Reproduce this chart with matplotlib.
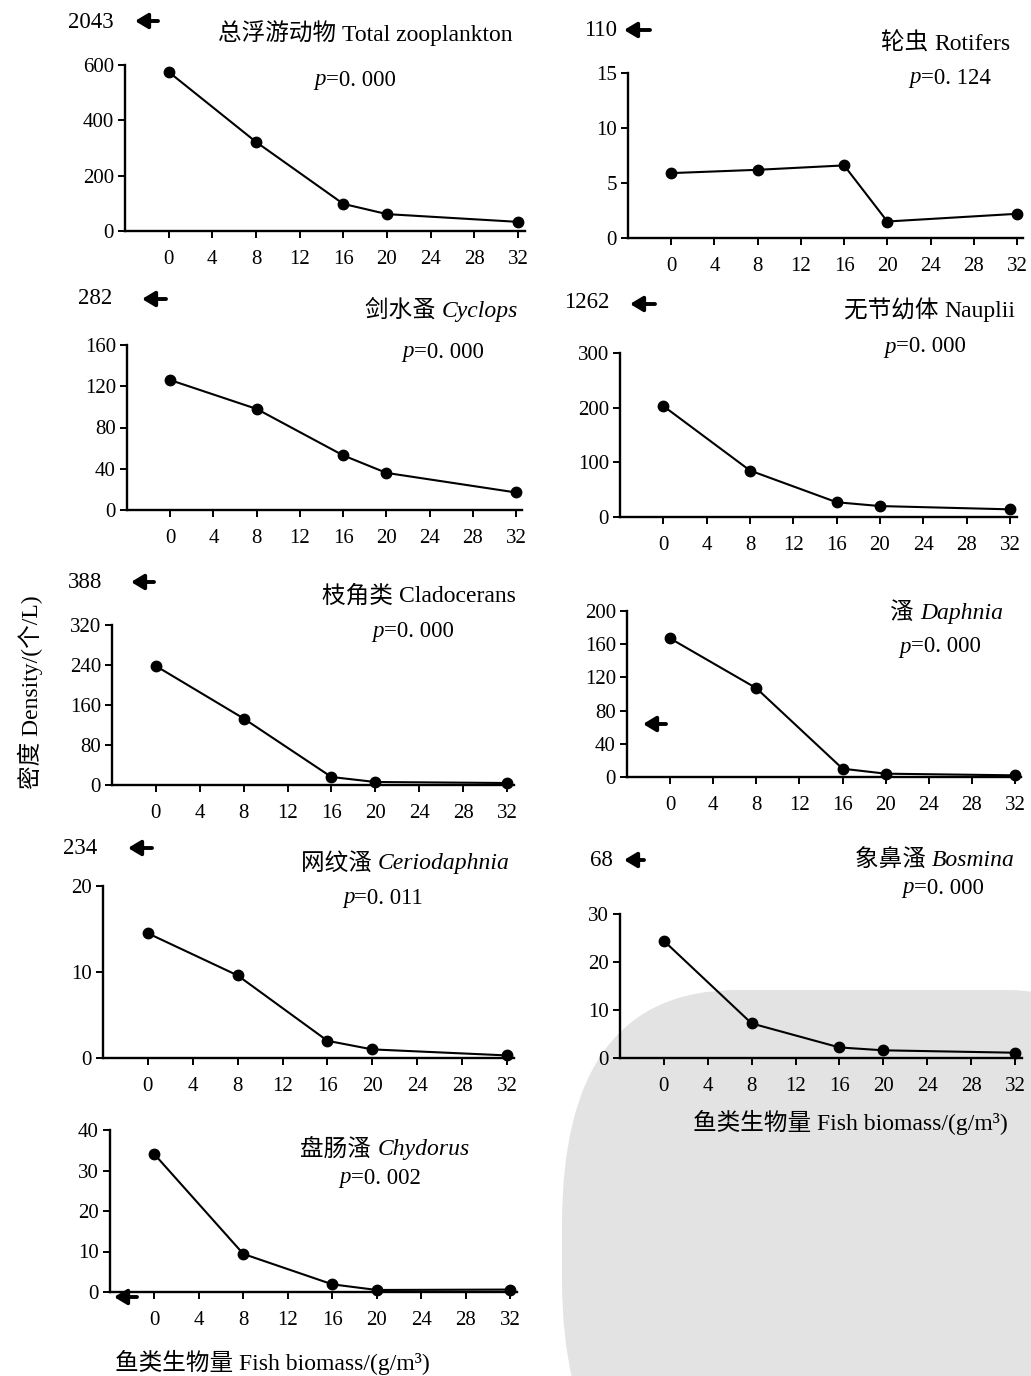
import matplotlib
matplotlib.use("Agg")
import matplotlib.pyplot as plt
from matplotlib.patches import FancyBboxPatch

W, H = 1031, 1376
fish_biomass = [0, 8, 16, 20, 32]
x_ticks = [0, 4, 8, 12, 16, 20, 24, 28, 32]

total_zoo = [575, 322, 98, 61, 33]
rotifers = [5.9, 6.2, 6.6, 1.5, 2.2]
cyclops = [126, 98, 53, 36, 17]
nauplii = [203, 85, 27, 20, 14]
cladocerans = [238, 133, 16, 6, 4]
daphnia = [167, 107, 10, 4, 2]
ceriodaphnia = [14.5, 9.6, 2.0, 1.0, 0.3]
bosmina = [24.4, 7.2, 2.2, 1.6, 1.1]
chydorus = [34, 9.4, 1.9, 0.5, 0.6]

y_ticks = {
    "total": [0, 200, 400, 600],
    "rot": [0, 5, 10, 15],
    "cyc": [0, 40, 80, 120, 160],
    "nau": [0, 100, 200, 300],
    "cla": [0, 80, 160, 240, 320],
    "dap": [0, 40, 80, 120, 160, 200],
    "cer": [0, 10, 20],
    "bos": [0, 10, 20, 30],
    "chy": [0, 10, 20, 30, 40],
}

control_values = ["2043", "110", "282", "1262", "388", "", "234", "68", ""]
cn_names = ["总浮游动物", "轮虫", "剑水蚤", "无节幼体", "枝角类", "溞", "网纹溞", "象鼻溞", "盘肠溞"]
en_names = ["Total zooplankton", "Rotifers", "Cyclops", "Nauplii", "Cladocerans",
            "Daphnia", "Ceriodaphnia", "Bosmina", "Chydorus"]
en_italic = [False, False, True, False, False, True, True, True, True]
p_values = ["0. 000", "0. 124", "0. 000", "0. 000", "0. 000", "0. 000", "0. 011", "0. 000", "0. 002"]

series = [total_zoo, rotifers, cyclops, nauplii, cladocerans, daphnia, ceriodaphnia, bosmina, chydorus]
yt_keys = ["total", "rot", "cyc", "nau", "cla", "dap", "cer", "bos", "chy"]

SERIF = ["Liberation Serif", "Noto Sans CJK SC"]

TICK_FS = 15
TITLE_FS = 17
P_FS = 16.5
CTRL_FS = 16.5
LABEL_FS = 17

# layout in pixels: spine x, x of 32, y of 0, y of top tick
geom = [
    (125, 518, 231, 65),
    (628, 1017, 238, 73),
    (127, 516, 510, 345),
    (620, 1010, 517, 353),
    (112, 507, 785, 625),
    (627, 1015, 777, 611),
    (103, 507, 1058, 886),
    (620, 1015, 1058, 914),
    (110, 510, 1292, 1130),
]
# title (right x, y), p-value centre (x, y), control label (x centre, y), arrow (tip x, tail x, y)
title_pos = [(513, 35), (1010, 44), (518, 311), (1015, 311), (516, 597), (1003, 613),
             (510, 864), (1015, 860), (385, 1150)]
p_pos = [(355, 80), (950, 78), (443, 352), (925, 347), (413, 632), (940, 647),
         (383, 898), (943, 888), (380, 1178)]
ctrl_pos = [(91, 22), (601, 30), (95, 299), (587, 303), (85, 582), None, (80, 848), (601, 860), None]
arrow_pos = [(135, 158, 21), (624, 650, 30), (142, 166, 299), (630, 655, 304), (131, 154, 582),
             (643, 666, 724), (128, 152, 848), (624, 644, 860), (114, 137, 1297)]

plt.rcParams['font.family'] = SERIF
fig = plt.figure(figsize=(W / 100, H / 100), dpi=100)
fig.patch.set_facecolor("white")

# watermark blob (background decoration)
wm = FancyBboxPatch((562 / W, -0.1), 0.6, (1376 - 990) / H + 0.1,
                    boxstyle="round,pad=0,rounding_size=0.17",
                    transform=fig.transFigure, facecolor="#e3e3e3", edgecolor="none", zorder=-5)
fig.patches.append(wm)

renderer = fig.canvas.get_renderer()


def mixed_right(xr, y, parts, size):
    cur = xr
    for txt, style in reversed(parts):
        t = fig.text(cur / W, 1 - y / H, txt, ha="right", va="center", fontsize=size,
                     family=SERIF, style=style)
        cur -= t.get_window_extent(renderer).width


def mixed_center(xc, y, parts, size):
    total = 0
    for txt, style in parts:
        t = fig.text(0, 0, txt, fontsize=size, family=SERIF, style=style)
        total += t.get_window_extent(renderer).width
        t.remove()
    mixed_right(xc + total / 2, y, parts, size)


for i in range(9):
    sx, x32, y0, ytop = geom[i]
    unit = (x32 - sx) / 36.0
    right = x32 + 0.6 * unit
    ax = fig.add_axes([sx / W, 1 - y0 / H, (right - sx) / W, (y0 - ytop) / H])
    ax.set_facecolor("none")
    ax.plot(fish_biomass, series[i], color="black", lw=1.5, marker="o", ms=7.5,
            clip_on=False, zorder=3)
    yt = y_ticks[yt_keys[i]]
    ax.set_xlim(-4, 32.6)
    ax.set_ylim(0, yt[-1])
    ax.set_xticks(x_ticks)
    ax.set_yticks(yt)
    for s in ["top", "right"]:
        ax.spines[s].set_visible(False)
    for s in ["left", "bottom"]:
        ax.spines[s].set_linewidth(1.7)
    ax.tick_params(axis="both", direction="out", length=5, width=1.4, labelsize=TICK_FS)
    ax.tick_params(axis="x", pad=9)
    ax.tick_params(axis="y", pad=3)

    tx, ty = title_pos[i]
    parts = [(cn_names[i] + " ", "normal"),
             (en_names[i], "italic" if en_italic[i] else "normal")]
    if i == 8:
        mixed_center(tx, ty, parts, TITLE_FS)
    else:
        mixed_right(tx, ty, parts, TITLE_FS)
    pxc, pyc = p_pos[i]
    mixed_center(pxc, pyc, [("p", "italic"), ("=" + p_values[i], "normal")], P_FS)

    if ctrl_pos[i] is not None:
        cx, cy = ctrl_pos[i]
        fig.text(cx / W, 1 - cy / H, control_values[i], ha="center", va="center",
                 fontsize=CTRL_FS, family=SERIF)
    tip, tail, ay = arrow_pos[i]
    ax.annotate("", xy=(tip, H - ay), xytext=(tail, H - ay), xycoords="figure pixels",
                textcoords="figure pixels",
                arrowprops=dict(arrowstyle="-|>,head_width=0.45,head_length=0.75",
                                lw=2.8, color="black", shrinkA=0, shrinkB=0))

fig.text(30 / W, 1 - 692 / H, "密度 Density/(个/L)", rotation=90, ha="center", va="center",
         fontsize=LABEL_FS, family=SERIF)
fig.text(850 / W, 1 - 1122 / H, "鱼类生物量 Fish biomass/(g/m³)", ha="center", va="center",
         fontsize=LABEL_FS, family=SERIF)
fig.text(272 / W, 1 - 1362 / H, "鱼类生物量 Fish biomass/(g/m³)", ha="center", va="center",
         fontsize=LABEL_FS, family=SERIF)

fig.savefig("out.png", dpi=100)
